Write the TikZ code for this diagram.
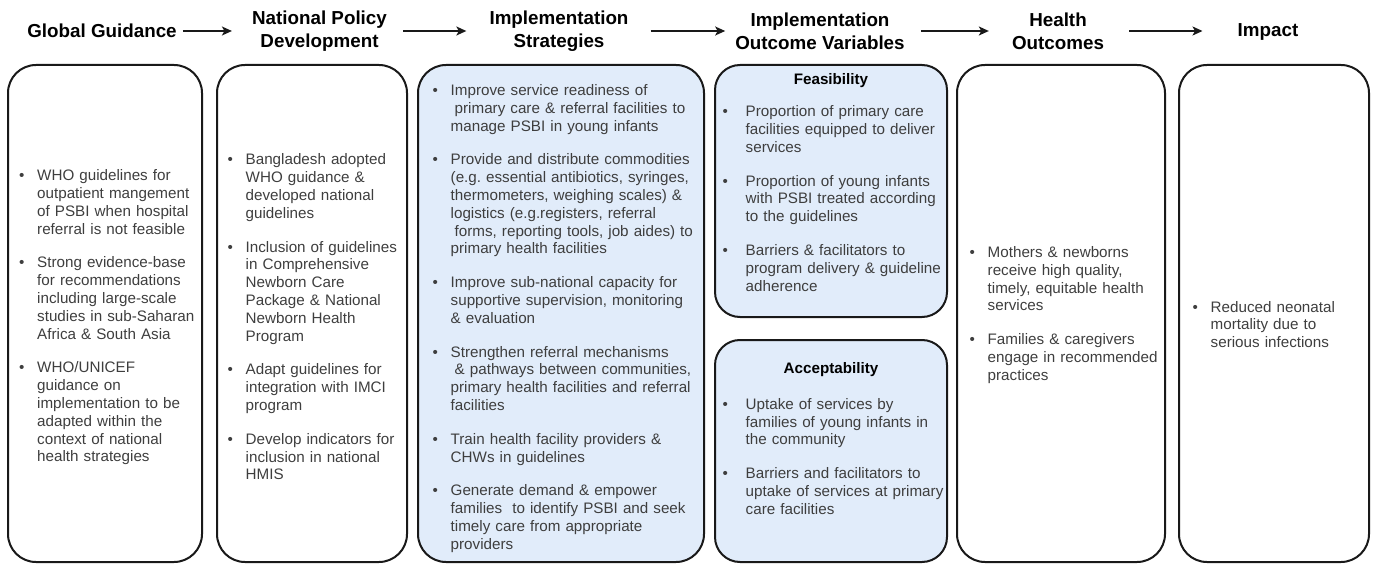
\documentclass[tikz,border=0pt]{standalone}
\usepackage{fontspec}
\setmainfont{Liberation Sans}
\usepackage{enumitem}
\usetikzlibrary{arrows.meta}
\frenchspacing
\definecolor{paleblue}{RGB}{225,236,250}
\definecolor{edge}{RGB}{25,25,25}
\definecolor{bodygray}{RGB}{62,62,62}
\tikzstyle{column} = [draw=edge, line width=2pt, rounded corners=28pt]
\tikzstyle{head} = [font=\fontsize{18.8}{23}\selectfont\bfseries, align=center, inner sep=0pt]
\tikzstyle{subhead} = [font=\fontsize{15.2}{18}\selectfont\bfseries, inner sep=0pt]
\tikzstyle{body} = [anchor=west, inner sep=0pt, text width=300pt, text=bodygray, align=left, font=\fontsize{15.2}{17.8}\selectfont]
\tikzstyle{flow} = [-{Stealth[length=10pt,width=9pt,inset=2.5pt]}, line width=1.5pt, draw=edge]
\setlist[itemize]{label=\textbullet, leftmargin=18pt, labelwidth=18pt, labelsep=0pt, align=left, itemsep=16pt, topsep=0pt, parsep=0pt, partopsep=0pt}

\begin{document}
\begin{tikzpicture}[x=1pt, y=-1pt]

	\useasboundingbox (0,0) rectangle (1376,564);

	% columns
	\draw[column] (8,65) rectangle (202,562);
	\draw[column] (217,65) rectangle (407,562);
	\draw[column, fill=paleblue] (418,65) rectangle (704,562);
	\draw[column, fill=paleblue, rounded corners=25pt] (715,65) rectangle (947,317);
	\draw[column, fill=paleblue, rounded corners=25pt] (715,340) rectangle (947,562);
	\draw[column] (957,65) rectangle (1165,562);
	\draw[column] (1179,65) rectangle (1369,562);

	% headings
	\node[head] (gg) at (102,31) {Global Guidance};
	\node[head] (npd) at (319.5,31) {National Policy\\Development};
	\node[head] (is) at (559,31) {Implementation\\Strategies};
	\node[head] (iov) at (820,31) {Implementation\\Outcome Variables};
	\node[head] (ho) at (1058,31) {Health\\Outcomes};
	\node[head] (imp) at (1268,32) {Impact};

	\draw[flow, shorten <=6pt, shorten >=20pt] (gg.east) -- (gg.east -| npd.west);
	\draw[flow, shorten <=16pt, shorten >=23pt] (npd.east) -- (npd.east -| is.west);
	\draw[flow, shorten <=22pt, shorten >=10pt] (is.east) -- (is.east -| iov.west);
	\draw[flow, shorten <=16pt, shorten >=23pt] (iov.east) -- (iov.east -| ho.west);
	\draw[flow, shorten <=25pt, shorten >=35pt] (ho.east) -- (ho.east -| imp.west);

	% column texts
	\node[body] (global) at (19,314) {\begin{itemize}
		\item WHO guidelines for\\ outpatient mangement\\ of PSBI when hospital\\ referral is not feasible
		\item Strong evidence-base\\ for recommendations\\ including large-scale\\ studies in sub-Saharan\\ Africa \& South Asia
		\item WHO/UNICEF\\ guidance on\\ implementation to be\\ adapted within the\\ context of national\\ health strategies
	\end{itemize}};

	\node[body] (policy) at (227.5,313.5) {\begin{itemize}
		\item Bangladesh adopted\\ WHO guidance \&\\ developed national\\ guidelines
		\item Inclusion of guidelines\\ in Comprehensive\\ Newborn Care\\ Package \& National\\ Newborn Health\\ Program
		\item Adapt guidelines for\\ integration with IMCI\\ program
		\item Develop indicators for\\ inclusion in national\\ HMIS
	\end{itemize}};

	\node[body] (strategies) at (432.5,315) {\begin{itemize}
		\item Improve service readiness of\\ \hspace*{4pt}primary care \& referral facilities to\\ manage PSBI in young infants
		\item Provide and distribute commodities\\ (e.g. essential antibiotics, syringes,\\ thermometers, weighing scales) \&\\ logistics (e.g.registers, referral\\ \hspace*{4pt}forms, reporting tools, job aides) to\\ primary health facilities
		\item Improve sub-national capacity for\\ supportive supervision, monitoring\\ \& evaluation
		\item Strengthen referral mechanisms\\ \hspace*{4pt}\& pathways between communities,\\ primary health facilities and referral\\ facilities
		\item Train health facility providers \&\\ CHWs in guidelines
		\item Generate demand \& empower\\ families\ \ to identify PSBI and seek\\ timely care from appropriate\\ providers
	\end{itemize}};

	\node[subhead] (feas) at (831,81) {Feasibility};
	\node[body] (feaslist) at (722.5,195) {\begin{itemize}[leftmargin=23pt, labelwidth=23pt]
		\item Proportion of primary care\\ facilities equipped to deliver\\ services
		\item Proportion of young infants\\ with PSBI treated according\\ to the guidelines
		\item Barriers \& facilitators to\\ program delivery \& guideline\\ adherence
	\end{itemize}};

	\node[subhead] (accept) at (831,370) {Acceptability};
	\node[body] (acceptlist) at (722.5,453) {\begin{itemize}[leftmargin=23pt, labelwidth=23pt]
		\item Uptake of services by\\ families of young infants in\\ the community
		\item Barriers and facilitators to\\ uptake of services at primary\\ care facilities
	\end{itemize}};

	\node[body] (health) at (969.5,311.5) {\begin{itemize}
		\item Mothers \& newborns\\ receive high quality,\\ timely, equitable health\\ services
		\item Families \& caregivers\\ engage in recommended\\ practices
	\end{itemize}};

	\node[body] (impact) at (1192.5,321) {\begin{itemize}
		\item Reduced neonatal\\ mortality due to\\ serious infections
	\end{itemize}};

\end{tikzpicture}
\end{document}
